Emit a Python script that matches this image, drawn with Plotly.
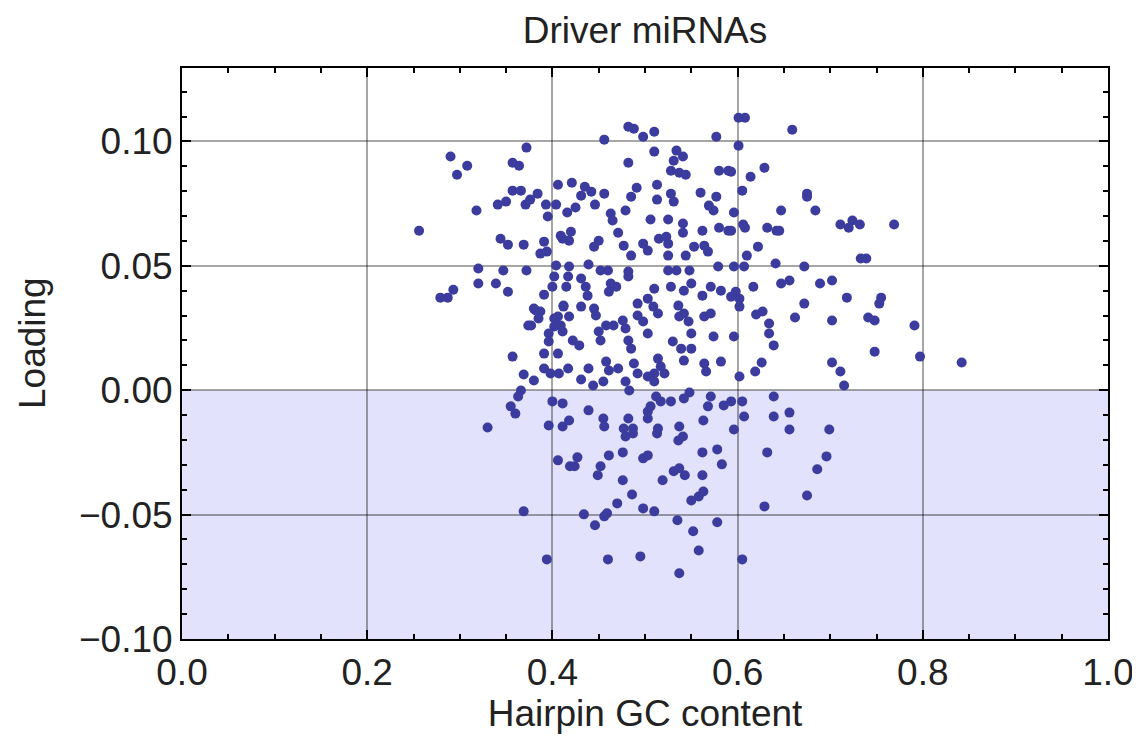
import plotly.graph_objects as go

# Hairpin GC content (x) and loading (y) of driver miRNAs
gc_content = [
    0.290, 0.308, 0.297, 0.318, 0.256, 0.320, 0.293, 0.279, 0.287, 0.320, 0.330,
    0.339, 0.347, 0.352, 0.372, 0.391, 0.382, 0.385, 0.374, 0.357, 0.369, 0.380,
    0.366, 0.363, 0.355, 0.360,
    0.482, 0.488, 0.498, 0.510, 0.456, 0.577, 0.372, 0.357, 0.364, 0.482, 0.510,
    0.534, 0.541, 0.531, 0.528, 0.537, 0.544, 0.580, 0.590, 0.406, 0.421, 0.435,
    0.442, 0.431, 0.446, 0.456, 0.357, 0.366, 0.384, 0.376, 0.350, 0.341, 0.371,
    0.393, 0.404, 0.395, 0.416, 0.425, 0.491, 0.485, 0.513, 0.513, 0.528, 0.531,
    0.560, 0.577, 0.569, 0.574, 0.479, 0.463, 0.465, 0.506, 0.525, 0.541, 0.541,
    0.562, 0.580, 0.590, 0.344, 0.352, 0.369, 0.391, 0.387, 0.394, 0.409, 0.420,
    0.418, 0.411, 0.450, 0.445, 0.471, 0.477, 0.485, 0.498, 0.503, 0.515, 0.523,
    0.525, 0.525, 0.544, 0.553, 0.564, 0.568, 0.404, 0.418, 0.439, 0.452, 0.460,
    0.482, 0.525, 0.534, 0.548, 0.579,
    0.601, 0.608, 0.659, 0.601, 0.629, 0.593, 0.614, 0.605, 0.675, 0.675, 0.647,
    0.684, 0.596, 0.606, 0.608, 0.593, 0.632, 0.642, 0.645, 0.711, 0.720, 0.724,
    0.732, 0.769, 0.622, 0.610, 0.733, 0.739, 0.641, 0.672, 0.596, 0.607,
    0.598, 0.602, 0.602, 0.593, 0.617, 0.647, 0.656, 0.689, 0.702, 0.718, 0.672,
    0.755, 0.753, 0.620, 0.627, 0.662, 0.702, 0.741, 0.748, 0.791, 0.634, 0.634,
    0.639, 0.596, 0.748, 0.797, 0.842, 0.626, 0.619, 0.702, 0.711, 0.715, 0.602,
    0.639, 0.605, 0.593, 0.607, 0.639, 0.656, 0.656, 0.699, 0.596,
    0.632, 0.696, 0.686, 0.675, 0.629, 0.605,
    0.479, 0.487, 0.513, 0.536, 0.541, 0.406, 0.419, 0.424, 0.427, 0.461, 0.476,
    0.498, 0.503, 0.452, 0.449, 0.562, 0.578, 0.583, 0.476, 0.519, 0.531, 0.537,
    0.543, 0.562, 0.486, 0.470, 0.550, 0.558, 0.563, 0.369, 0.434, 0.456, 0.459,
    0.446, 0.498, 0.510, 0.535, 0.552, 0.578, 0.558, 0.394, 0.460, 0.495, 0.537,
    0.400, 0.402, 0.415, 0.431, 0.436, 0.438, 0.463, 0.469, 0.461, 0.482, 0.510,
    0.528, 0.542, 0.550, 0.571, 0.582, 0.562, 0.412, 0.431, 0.380, 0.387, 0.445,
    0.447, 0.492, 0.503, 0.509, 0.514, 0.492, 0.498, 0.536, 0.542, 0.537, 0.547,
    0.564, 0.571, 0.377, 0.406, 0.402, 0.418, 0.396, 0.396, 0.411, 0.422, 0.429,
    0.450, 0.452, 0.458, 0.466, 0.476, 0.479, 0.482, 0.485, 0.503, 0.530, 0.539,
    0.550, 0.550, 0.542, 0.574, 0.391, 0.406, 0.391, 0.398, 0.407, 0.417, 0.439,
    0.431, 0.444, 0.458, 0.461, 0.471, 0.455, 0.488, 0.492, 0.479, 0.483, 0.503,
    0.510, 0.514, 0.517, 0.521, 0.510, 0.564, 0.582, 0.566, 0.400, 0.411, 0.439,
    0.396, 0.411, 0.418, 0.455, 0.456, 0.482, 0.477, 0.487, 0.503, 0.506, 0.503,
    0.512, 0.517, 0.528, 0.542, 0.548, 0.571, 0.568, 0.563, 0.585, 0.514, 0.537,
    0.402, 0.409, 0.412, 0.417,
]
loading = [
    0.0939, 0.0902, 0.0866, 0.0722, 0.0641, 0.0489, 0.0404, 0.0372, 0.0372, 0.0429, -0.0150,
    0.0429, 0.0481, 0.0396, 0.0481, 0.0384, 0.0320, 0.0288, 0.0260, 0.0135, 0.0063, 0.0039,
    -0.0001, -0.0025, -0.0065, -0.0094,
    0.1059, 0.1051, 0.1019, 0.1039, 0.1007, 0.1019, 0.0975, 0.0914, 0.0902, 0.0914, 0.0959,
    0.0963, 0.0939, 0.0922, 0.0882, 0.0874, 0.0866, 0.0882, 0.0882, 0.0826, 0.0834, 0.0818,
    0.0798, 0.0782, 0.0746, 0.0790, 0.0802, 0.0802, 0.0790, 0.0766, 0.0758, 0.0746, 0.0746,
    0.0746, 0.0746, 0.0698, 0.0714, 0.0734, 0.0814, 0.0778, 0.0826, 0.0766, 0.0790, 0.0758,
    0.0794, 0.0778, 0.0742, 0.0722, 0.0722, 0.0710, 0.0682, 0.0686, 0.0686, 0.0670, 0.0633,
    0.0641, 0.0653, 0.0641, 0.0609, 0.0585, 0.0585, 0.0597, 0.0549, 0.0557, 0.0621, 0.0637,
    0.0601, 0.0609, 0.0601, 0.0577, 0.0633, 0.0581, 0.0541, 0.0589, 0.0561, 0.0609, 0.0617,
    0.0589, 0.0541, 0.0541, 0.0577, 0.0581, 0.0557, 0.0501, 0.0497, 0.0505, 0.0481, 0.0481,
    0.0477, 0.0481, 0.0481, 0.0481, 0.0497,
    0.1095, 0.1095, 0.1047, 0.0983, 0.0894, 0.0878, 0.0858, 0.0802, 0.0790, 0.0778, 0.0722,
    0.0722, 0.0714, 0.0666, 0.0653, 0.0641, 0.0653, 0.0641, 0.0641, 0.0666, 0.0653, 0.0682,
    0.0666, 0.0666, 0.0577, 0.0541, 0.0529, 0.0529, 0.0509, 0.0497, 0.0497, 0.0497,
    0.0396, 0.0368, 0.0336, 0.0376, 0.0416, 0.0429, 0.0441, 0.0429, 0.0441, 0.0372, 0.0348,
    0.0372, 0.0348, 0.0304, 0.0316, 0.0292, 0.0280, 0.0292, 0.0280, 0.0260, 0.0268, 0.0228,
    0.0180, 0.0216, 0.0155, 0.0135, 0.0111, 0.0111, 0.0075, 0.0111, 0.0075, 0.0019, 0.0055,
    -0.0025, -0.0045, -0.0045, -0.0106, -0.0106, -0.0090, -0.0158, -0.0158, -0.0158,
    -0.0250, -0.0266, -0.0318, -0.0423, -0.0467, -0.0680,
    -0.0186, -0.0174, -0.0174, -0.0202, -0.0186, -0.0282, -0.0306, -0.0306, -0.0270, -0.0262, -0.0250,
    -0.0274, -0.0262, -0.0306, -0.0342, -0.0250, -0.0238, -0.0298, -0.0362, -0.0362, -0.0326, -0.0314,
    -0.0342, -0.0342, -0.0419, -0.0455, -0.0443, -0.0427, -0.0407, -0.0487, -0.0499, -0.0507, -0.0495,
    -0.0543, -0.0475, -0.0487, -0.0523, -0.0567, -0.0531, -0.0644, -0.0680, -0.0680, -0.0668, -0.0736,
    0.0416, 0.0457, 0.0416, 0.0449, 0.0416, 0.0380, 0.0429, 0.0416, 0.0396, 0.0457, 0.0408,
    0.0416, 0.0400, 0.0429, 0.0416, 0.0400, 0.0380, 0.0336, 0.0336, 0.0328, 0.0316, 0.0328,
    0.0300, 0.0348, 0.0368, 0.0336, 0.0308, 0.0300, 0.0276, 0.0340, 0.0308, 0.0296, 0.0276,
    0.0296, 0.0308, 0.0260, 0.0296, 0.0256, 0.0296, 0.0228, 0.0196, 0.0236, 0.0200, 0.0180,
    0.0236, 0.0200, 0.0260, 0.0260, 0.0280, 0.0248, 0.0200, 0.0167, 0.0228, 0.0196, 0.0167,
    0.0167, 0.0228, 0.0119, 0.0216, 0.0147, 0.0147, 0.0087, 0.0067, 0.0067, 0.0087, 0.0087,
    0.0043, 0.0019, 0.0115, 0.0079, 0.0087, 0.0035, 0.0107, 0.0067, 0.0035, -0.0001, 0.0055,
    0.0067, 0.0127, 0.0095, 0.0067, 0.0035, 0.0107, 0.0115, 0.0075, -0.0045, -0.0053, -0.0081,
    -0.0142, -0.0146, -0.0122, -0.0114, -0.0146, -0.0114, -0.0154, -0.0154, -0.0086, -0.0065, -0.0114,
    -0.0025, -0.0045, -0.0045, -0.0033, -0.0009, -0.0025, -0.0065, -0.0122, -0.0061, -0.0154, -0.0146,
    0.0288, 0.0260, 0.0340, 0.0457,
]

x_ticks = [0.0, 0.2, 0.4, 0.6, 0.8, 1.0]
y_ticks = [-0.10, -0.05, 0.00, 0.05, 0.10]
negative_band = [-0.10, 0.0]

font = "Liberation Sans, Arial, sans-serif"
text_size = 37

fig = go.Figure()

fig.add_trace(go.Scatter(
    x=gc_content, y=loading, mode="markers",
    marker=dict(size=10, color="#3c3c9e", line=dict(width=0)),
    showlegend=False))

# light band for negative loadings
fig.add_shape(type="rect", xref="x domain", yref="y",
              x0=0, x1=1, y0=negative_band[0], y1=negative_band[1],
              fillcolor="#e2e2fc", line=dict(width=0), layer="below")

axis_style = dict(
    showline=True, linecolor="black", linewidth=2, mirror="allticks",
    ticks="inside", ticklen=9, tickwidth=2, tickcolor="black",
    showgrid=True, gridcolor="rgba(0,0,0,0.35)", gridwidth=1.5,
    zeroline=False, automargin=False,
    tickfont=dict(family=font, size=text_size, color="#222"),
)

fig.update_xaxes(
    range=[0, 1], tickvals=x_ticks, ticktext=["%.1f" % v for v in x_ticks],
    minor=dict(dtick=0.05, tick0=0, ticks="inside", ticklen=5, tickwidth=1.5,
               tickcolor="black", showgrid=False),
    title=dict(text="Hairpin GC content", font=dict(family=font, size=text_size, color="#222"),
               standoff=6),
    **axis_style)

fig.update_yaxes(
    range=[-0.10, 0.1295], tickvals=y_ticks,
    ticktext=[("%.2f" % v).replace("-", "\u2212") for v in y_ticks],
    minor=dict(dtick=0.01, tick0=0, ticks="inside", ticklen=5, tickwidth=1.5,
               tickcolor="black", showgrid=False),
    **axis_style)

# y label placed by hand, Mathematica sits it a little above the frame centre
fig.add_annotation(text="Loading", textangle=-90, showarrow=False,
                   xref="paper", yref="paper", x=-150 / 926, y=(631 - 335) / 571,
                   xanchor="center", yanchor="middle",
                   font=dict(family=font, size=text_size, color="#222"))

# the page adds an 8px body margin, so the figure is sized to fit inside 1140x744
fig.update_layout(
    width=1132, height=736,
    margin=dict(l=174, r=32, t=60, b=105),
    paper_bgcolor="white", plot_bgcolor="white",
    title=dict(text="Driver miRNAs", x=637 / 1132, xanchor="center",
               y=1 - 22 / 736, yanchor="middle", yref="container",
               font=dict(family=font, size=text_size, color="#222")),
)

fig.write_html("out.html")
